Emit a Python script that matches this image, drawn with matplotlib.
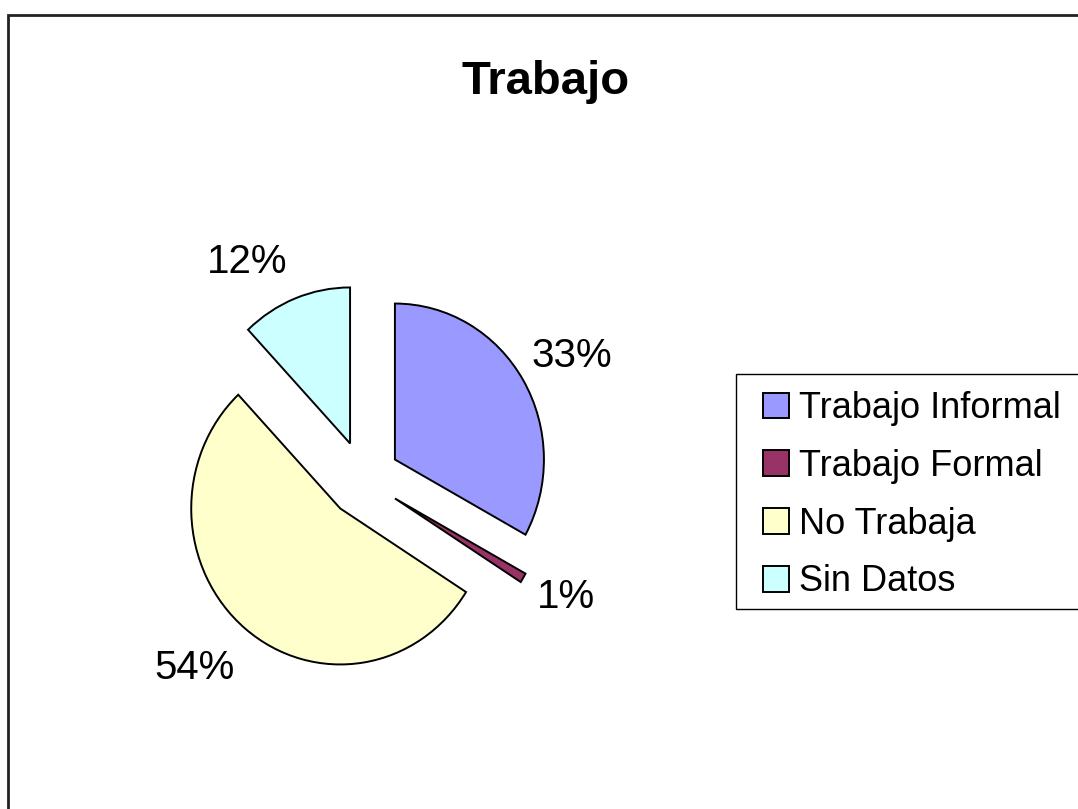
import numpy as np
import matplotlib
matplotlib.use("Agg")
import matplotlib.pyplot as plt
from matplotlib.patches import Rectangle
from matplotlib.legend_handler import HandlerPatch

plt.rcParams['font.family'] = ['Liberation Sans', 'DejaVu Sans']

# ---- data ----
title = "Trabajo"
categories = ["Trabajo Informal", "Trabajo Formal", "No Trabaja", "Sin Datos"]
values = [33, 1, 54, 12]
colors = ["#9999FF", "#993366", "#FFFFCC", "#CCFFFF"]

# ---- style / layout ----
label_dist = [1.37, 1.30, 1.40, 1.37]
label_nudge = [-0.7, 2.7, -4.6, 8.6]
label_size = 29

W, H = 1078, 809
fig = plt.figure(figsize=(W / 100, H / 100), dpi=100)

# outer chart border (cut off at right/bottom like the reference)
fig.patches.append(Rectangle((8 / W, -0.05), 1.2, 1.05 - 15 / H,
                             transform=fig.transFigure, fill=False,
                             edgecolor="#222222", linewidth=2))

# axes sized so that 1 x-unit ~149 px, 1 y-unit ~156 px
cx, cy = 363.5, 479.0
ux, uy = 149.0, 156.0
lim = 1.6
ax = fig.add_axes([(cx - lim * ux) / W, (H - (cy + lim * uy)) / H,
                   2 * lim * ux / W, 2 * lim * uy / H])

wedges, _ = ax.pie(values, colors=colors, startangle=90, counterclock=False,
                   explode=[0.245] * len(values),
                   wedgeprops=dict(edgecolor="black", linewidth=1.4))
ax.set_aspect('auto')
ax.set_xlim(-lim, lim)
ax.set_ylim(-lim, lim)
ax.axis('off')

total = sum(values)
cap_half = 0.716 * label_size / 2
for w, v, d, n in zip(wedges, values, label_dist, label_nudge):
    mid = np.deg2rad((w.theta1 + w.theta2) / 2 + n)
    x0, y0 = w.center
    ax.annotate(f"{100 * v / total:.0f}%",
                xy=(x0 + d * np.cos(mid), y0 + d * np.sin(mid)),
                xytext=(0, -cap_half), textcoords='offset points',
                ha='center', va='baseline', fontsize=label_size)

fig.text(546 / W, 1 - 94 / H, title, ha='center', va='baseline',
         fontsize=34, fontweight='bold')

# legend frame (extends past the right edge like the reference)
fig.patches.append(Rectangle((736 / W, 1 - 609 / H), 400 / W, 235 / H,
                             transform=fig.transFigure, facecolor='white',
                             edgecolor='black', linewidth=1.0, zorder=2))


def square_patch(legend, orig_handle, xdescent, ydescent, width, height,
                 fontsize):
    return Rectangle((-xdescent + width - height, -ydescent), height, height)


leg = fig.legend(wedges, categories, loc='upper left',
                 bbox_to_anchor=(757 / W, 1 - 391 / H),
                 fontsize=26, frameon=False,
                 handlelength=0.88, handleheight=0.72,
                 handletextpad=0.28, labelspacing=0.63, borderpad=0,
                 borderaxespad=0,
                 handler_map={w: HandlerPatch(patch_func=square_patch)
                              for w in wedges})
leg.set_zorder(3)
for h in leg.legend_handles:
    h.set_linewidth(1.4)
    h.set_edgecolor('black')

fig.savefig("out.png", dpi=100)
